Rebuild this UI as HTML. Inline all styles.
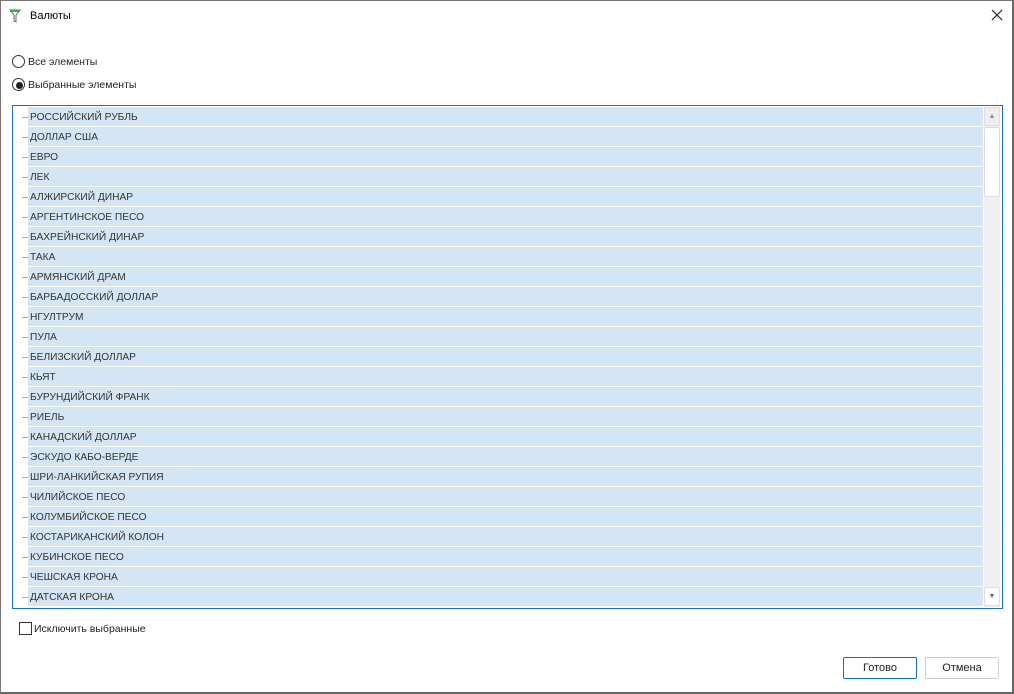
<!DOCTYPE html>
<html><head><meta charset="utf-8"><style>
*{box-sizing:border-box;margin:0;padding:0}
body{width:1014px;height:694px;background:#fff;font-family:"Liberation Sans",sans-serif;font-size:10.5px;color:#222;position:relative;overflow:hidden}
.win{position:absolute;left:0;top:0;width:1014px;height:694px;border:1px solid #777;border-right:2px solid #666;border-bottom:2px solid #666}
.abs{position:absolute}
.radio{position:absolute;width:13px;height:13px;border:1px solid #333;border-radius:50%;background:#fff}
.list{position:absolute;left:12px;top:105px;width:991px;height:504px;border:1px solid #1a6fc0}
.row{position:absolute;left:15px;width:955px;height:19px;background:#d4e6f5;line-height:21px;padding-left:2px;font-size:10.2px;color:#333}
.tick{position:absolute;left:9px;width:6px;height:1px;background:#aaa}
.btn{position:absolute;top:657px;width:74px;height:22px;border:1px solid #ccc;border-radius:2px;text-align:center;line-height:21px;background:#fff;font-size:11px}
</style></head><body>
<div class="win"></div>
<svg class="abs" style="left:9px;top:9px" width="12" height="14"><path d="M1 1h10l-4 5v7l-2-1V6z" fill="none" stroke="#666"/><rect x="1" y="1" width="10" height="2" fill="#2bb34a"/></svg>
<div class="abs" style="left:30px;top:10px;font-size:11px;color:#000">Валюты</div>
<svg class="abs" style="left:991px;top:9px" width="12" height="12"><path d="M1 1l10 10M11 1L1 11" stroke="#222" stroke-width="1.2"/></svg>
<div class="radio" style="left:12px;top:55px"></div>
<div class="abs" style="left:28px;top:56px">Все элементы</div>
<div class="radio" style="left:12px;top:78px"></div>
<div class="abs" style="left:16px;top:82px;width:7px;height:7px;border-radius:50%;background:#222"></div>
<div class="abs" style="left:28px;top:79px">Выбранные элементы</div>
<div class="list">
<div class="abs" style="left:971px;top:1px;width:16px;height:500px;background:#f0f0f0"></div>
<div class="abs" style="left:971px;top:1px;width:16px;height:19px;background:#eee;border:1px solid #ddd;border-radius:2px;font-size:7px;color:#888;text-align:center;line-height:17px">▲</div>
<div class="abs" style="left:971px;top:21px;width:16px;height:70px;background:#fff;border:1px solid #ddd;border-radius:2px"></div>
<div class="abs" style="left:971px;top:481px;width:16px;height:19px;background:#fff;border:1px solid #ddd;border-radius:2px;font-size:7px;color:#666;text-align:center;line-height:17px">▼</div>
<div id="rows"></div>
</div>
<div class="abs" style="left:19px;top:622px;width:13px;height:13px;border:1px solid #333;background:#fff"></div>
<div class="abs" style="left:34px;top:623px">Исключить выбранные</div>
<div class="btn" style="left:843px;border-color:#1a6fc0">Готово</div>
<div class="btn" style="left:925px">Отмена</div>
<script>
var n=["РОССИЙСКИЙ РУБЛЬ","ДОЛЛАР США","ЕВРО","ЛЕК","АЛЖИРСКИЙ ДИНАР","АРГЕНТИНСКОЕ ПЕСО","БАХРЕЙНСКИЙ ДИНАР","ТАКА","АРМЯНСКИЙ ДРАМ","БАРБАДОССКИЙ ДОЛЛАР","НГУЛТРУМ","ПУЛА","БЕЛИЗСКИЙ ДОЛЛАР","КЬЯТ","БУРУНДИЙСКИЙ ФРАНК","РИЕЛЬ","КАНАДСКИЙ ДОЛЛАР","ЭСКУДО КАБО-ВЕРДЕ","ШРИ-ЛАНКИЙСКАЯ РУПИЯ","ЧИЛИЙСКОЕ ПЕСО","КОЛУМБИЙСКОЕ ПЕСО","КОСТАРИКАНСКИЙ КОЛОН","КУБИНСКОЕ ПЕСО","ЧЕШСКАЯ КРОНА","ДАТСКАЯ КРОНА"];
var h="";n.forEach(function(t,i){var y=1+i*20;h+='<div class="tick" style="top:'+(y+10)+'px"></div><div class="row" style="top:'+y+'px">'+t+'</div>';});
document.getElementById("rows").innerHTML=h;
</script>
</body></html>
